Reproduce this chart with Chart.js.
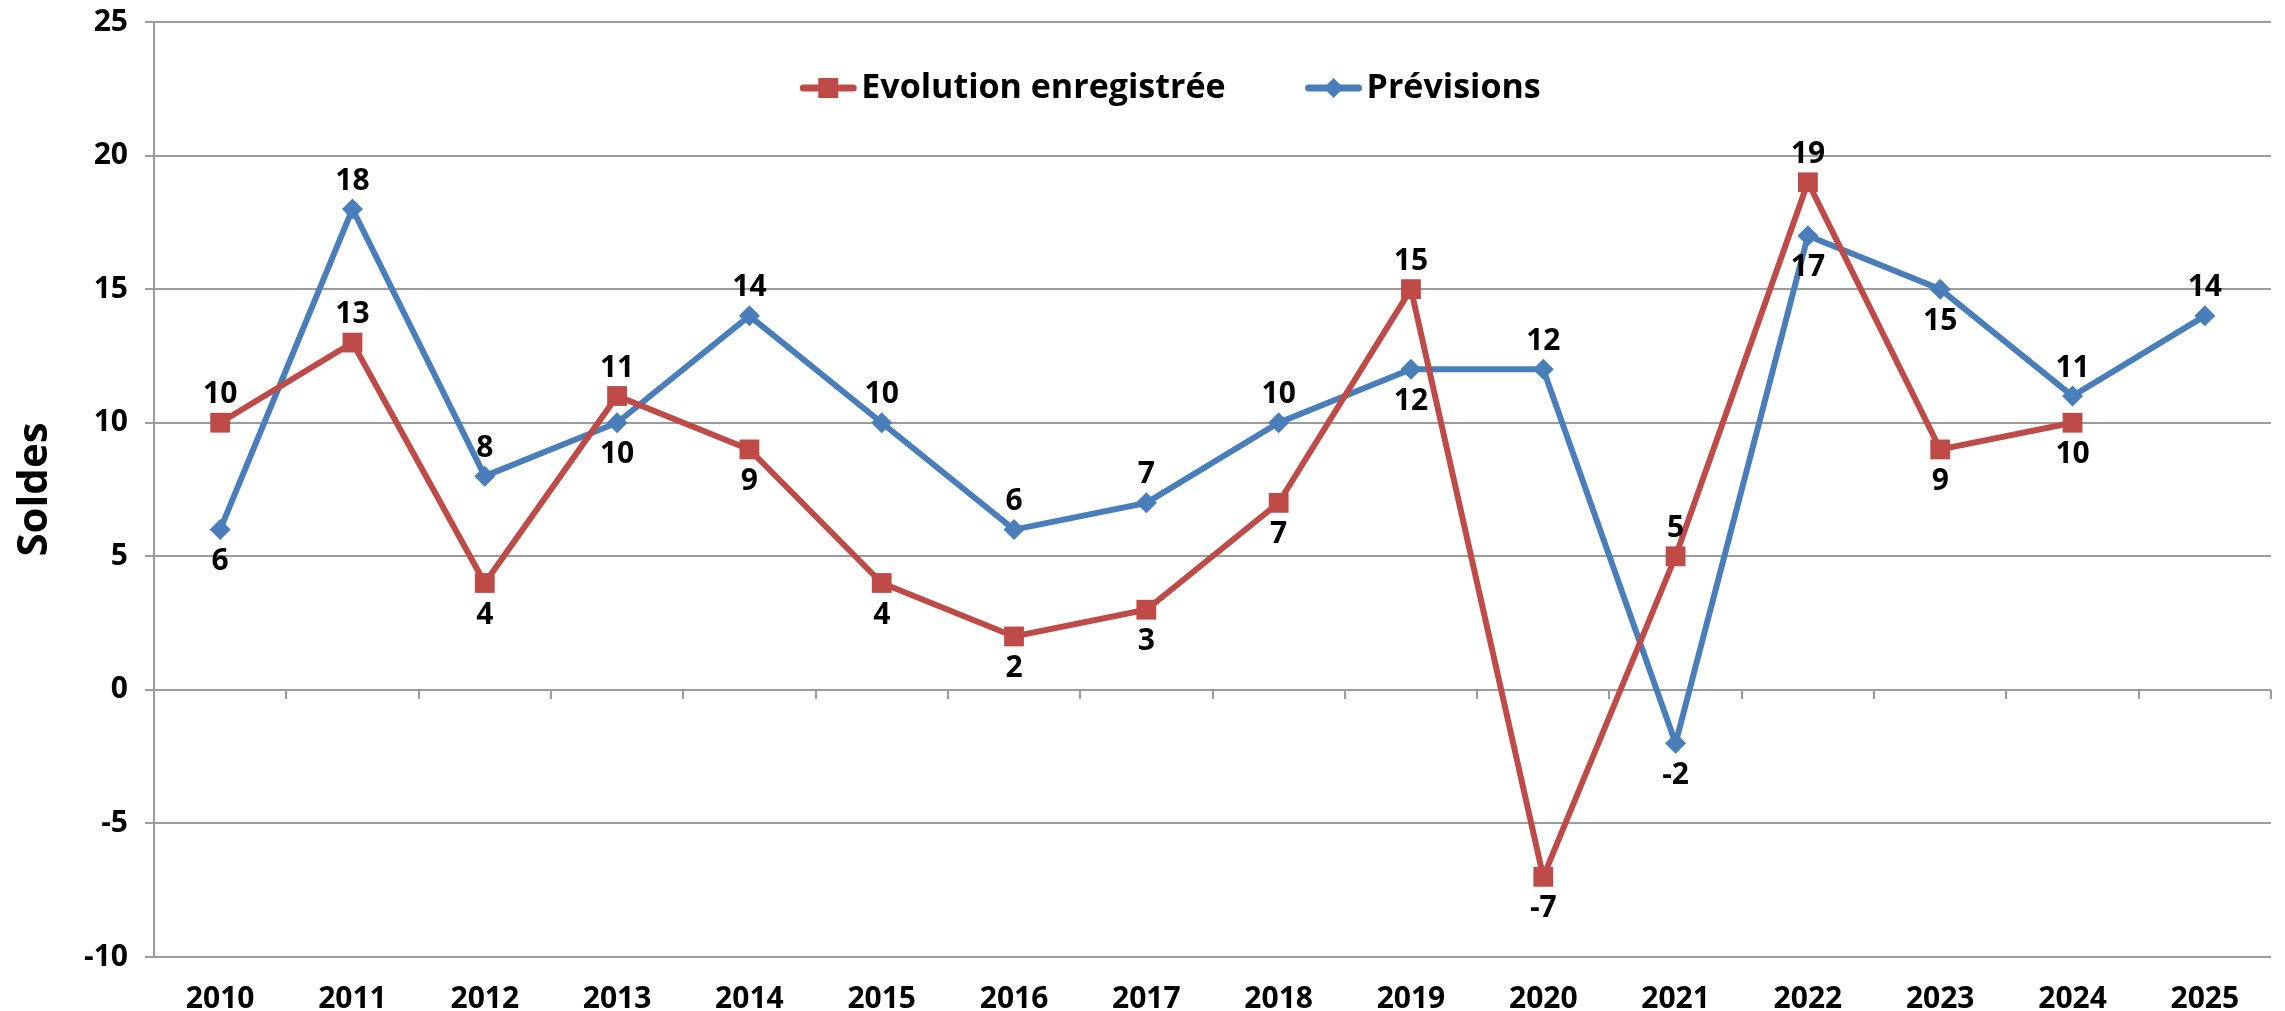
<!DOCTYPE html>
<html>
<head>
<meta charset="utf-8">
<script src="https://cdn.jsdelivr.net/npm/chart.js@4"></script>
<style>
  html, body { margin: 0; padding: 0; background: #fff; }
  #wrap { width: 2285px; height: 1011px; }
</style>
</head>
<body>
<div id="wrap"><canvas id="soldesChart"></canvas></div>
<script>
// data
const years = ['2010', '2011', '2012', '2013', '2014', '2015', '2016', '2017',
  '2018', '2019', '2020', '2021', '2022', '2023', '2024', '2025'];
const evolution = [10, 13, 4, 11, 9, 4, 2, 3, 7, 15, -7, 5, 19, 9, 10, null];
const previsions = [6, 18, 8, 10, 14, 10, 6, 7, 10, 12, 12, -2, 17, 15, 11, 14];

// where each value label sits relative to its point
const evolutionSide = ['up', 'up', 'down', 'up', 'down', 'down', 'down', 'down',
  'down', 'up', 'down', 'up', 'up', 'down', 'down', null];
const previsionsSide = ['down', 'up', 'up', 'down', 'up', 'up', 'up', 'up',
  'up', 'down', 'up', 'down', 'down', 'down', 'up', 'up'];

const RED = '#BE4B48';
const BLUE = '#4A7EBB';
const GRID = '#9c9c9c';

Chart.defaults.font.family = '"Open Sans", "DejaVu Sans", sans-serif';
Chart.defaults.font.weight = 'bold';
Chart.defaults.color = '#000';

// value labels above / below points
const valueLabels = {
  id: 'valueLabels',
  afterDatasetsDraw(chart) {
    const ctx = chart.ctx;
    ctx.save();
    ctx.font = 'bold 30px "Open Sans"';
    ctx.fillStyle = '#000';
    ctx.textAlign = 'center';
    ctx.textBaseline = 'middle';
    chart.data.datasets.forEach((ds, i) => {
      const meta = chart.getDatasetMeta(i);
      meta.data.forEach((pt, j) => {
        const v = ds.data[j];
        if (v === null || v === undefined) return;
        const dy = ds.labelSide[j] === 'up' ? -28 : 32;
        ctx.fillText(String(v), pt.x, pt.y + dy);
      });
    });
    ctx.restore();
  }
};

// legend with line through marker, inside the plot
const lineLegend = {
  id: 'lineLegend',
  afterDraw(chart) {
    const ctx = chart.ctx;
    const area = chart.chartArea;
    ctx.save();
    ctx.font = 'bold 34px "Open Sans"';
    const items = chart.data.datasets.map(ds => ({ ds: ds, w: 61 + ctx.measureText(ds.label).width }));
    const gap = 80;
    const total = items.reduce((s, it) => s + it.w, 0) + gap * (items.length - 1);
    let x = (area.left + area.right) / 2 - 42 - total / 2;
    const y = area.top + 66;
    items.forEach(it => {
      const ds = it.ds;
      ctx.strokeStyle = ds.borderColor;
      ctx.lineWidth = 7;
      ctx.lineCap = 'round';
      ctx.beginPath();
      ctx.moveTo(x + 3, y);
      ctx.lineTo(x + 53, y);
      ctx.stroke();
      ctx.fillStyle = ds.backgroundColor;
      ctx.beginPath();
      if (ds.pointStyle === 'rect') {
        ctx.rect(x + 18, y - 10, 20, 20);
      } else {
        ctx.moveTo(x + 28, y - 10);
        ctx.lineTo(x + 38, y);
        ctx.lineTo(x + 28, y + 10);
        ctx.lineTo(x + 18, y);
        ctx.closePath();
      }
      ctx.fill();
      ctx.fillStyle = '#000';
      ctx.textBaseline = 'middle';
      ctx.textAlign = 'left';
      ctx.fillText(ds.label, x + 61, y);
      x += it.w + gap;
    });
    ctx.restore();
  }
};

const ctx = document.getElementById('soldesChart').getContext('2d');
const soldesChart = new Chart(ctx, {
  type: 'line',
  data: {
    labels: years,
    datasets: [{
      label: 'Evolution enregistrée',
      data: evolution,
      labelSide: evolutionSide,
      borderColor: RED,
      backgroundColor: RED,
      borderWidth: 6,
      pointStyle: 'rect',
      pointRadius: 14,
      pointBorderWidth: 0,
      tension: 0,
      spanGaps: false
    }, {
      label: 'Prévisions',
      data: previsions,
      labelSide: previsionsSide,
      borderColor: BLUE,
      backgroundColor: BLUE,
      borderWidth: 6,
      pointStyle: 'rectRot',
      pointRadius: 10.5,
      pointBorderWidth: 0,
      tension: 0
    }]
  },
  options: {
    responsive: true,
    maintainAspectRatio: false,
    animation: false,
    layout: { padding: { left: 0, right: 8, top: 22, bottom: 0 } },
    plugins: {
      legend: { display: false },
      tooltip: { enabled: false }
    },
    scales: {
      x: {
        type: 'category',
        offset: true,
        grid: { display: false },
        border: { display: false },
        ticks: { font: { size: 30, weight: 'bold' }, padding: 16, maxRotation: 0 },
        afterFit: scale => { scale.height = 54; }
      },
      x2: {
        type: 'category',
        axis: 'x',
        labels: years,
        position: { y: 0 },
        offset: true,
        grid: {
          offset: true,
          drawOnChartArea: false,
          drawTicks: true,
          tickLength: 9,
          color: GRID,
          lineWidth: 2
        },
        border: { display: false },
        ticks: { display: false }
      },
      y: {
        min: -10,
        max: 25,
        ticks: { stepSize: 5, font: { size: 30, weight: 'bold' }, padding: 17 },
        grid: { color: GRID, lineWidth: 2, tickLength: 9 },
        border: { color: GRID, width: 2 },
        title: {
          display: true,
          text: 'Soldes',
          font: { size: 42, weight: 'bold' },
          padding: { top: 10, bottom: 0 }
        },
        afterFit: scale => {
          scale.width = 154;
          scale.paddingTop = 10;
          scale.paddingBottom = 10;
        }
      }
    }
  },
  plugins: [valueLabels, lineLegend]
});
</script>
</body>
</html>
